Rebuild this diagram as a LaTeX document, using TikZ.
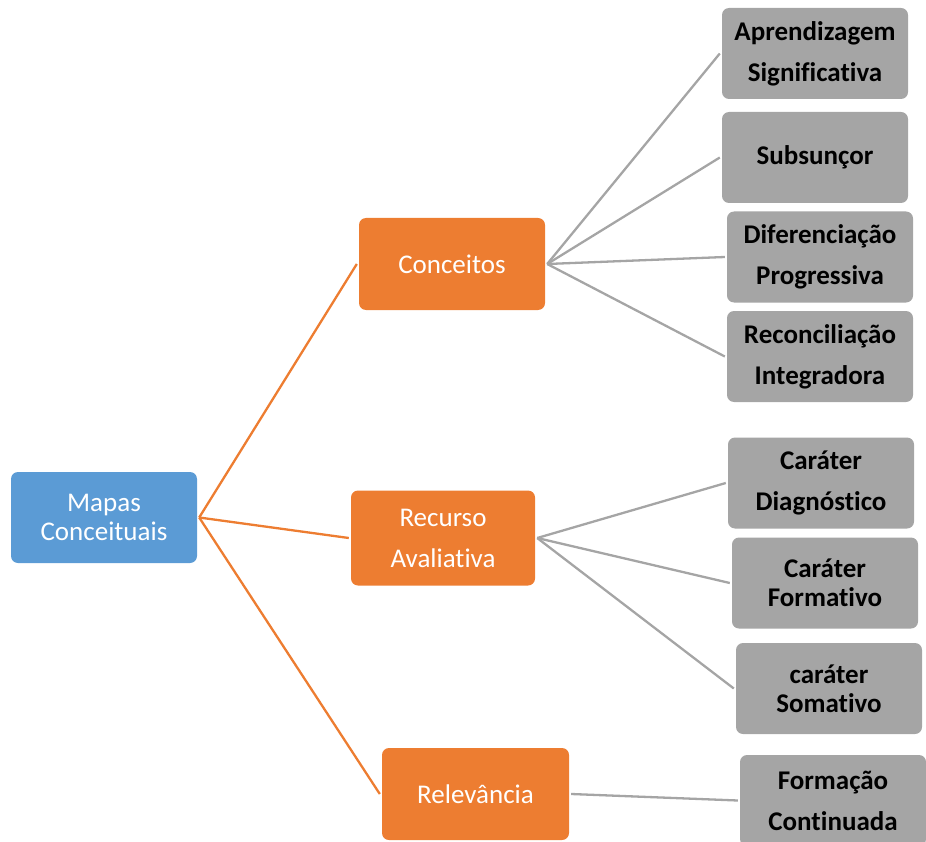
\documentclass[tikz,border=0pt]{standalone}
\usepackage{fontspec}
\setmainfont{Carlito}[Ligatures={NoCommon,NoRare,NoContextual}]
\definecolor{mblue}{HTML}{5B9BD5}
\definecolor{morange}{HTML}{ED7D31}
\definecolor{mgray}{HTML}{A5A5A5}
\tikzset{
  base/.style={rounded corners=7pt, inner sep=0pt, align=center, minimum height=91pt},
  rootbox/.style={base, fill=mblue, text=white, minimum width=186pt},
  midbox/.style={base, fill=morange, text=white, minimum width=186pt},
  leafbox/.style={base, fill=mgray, text=black, minimum width=186pt},
  wide/.style={font=\fontsize{27}{41}\selectfont},
  tight/.style={font=\fontsize{27}{29}\selectfont},
  wideb/.style={font=\fontsize{27}{41}\selectfont\bfseries},
  tightb/.style={font=\fontsize{27}{29}\selectfont\bfseries},
  olink/.style={draw=morange, line width=2.3pt},
  glink/.style={draw=mgray, line width=2.3pt},
}
\begin{document}
\begin{tikzpicture}[x=1pt,y=1pt]
\useasboundingbox (0,0) rectangle (926,-842);
\clip (0,0) rectangle (926,-842);
% root
\node[rootbox, tight] (map) at (104,-517.5) {Mapas\\Conceituais};
% middle
\node[midbox, wide, minimum height=92pt] (conc) at (452,-264) {Conceitos};
\node[midbox, wide, minimum width=184pt, minimum height=95pt] (rec) at (443,-538) {Recurso\\Avaliativa};
\node[midbox, wide, minimum width=187pt, minimum height=92pt] (rel) at (475.5,-794) {Relev\^ancia};
% leaves
\node[leafbox, wideb] (g1) at (815,-53.5) {Aprendizagem\\Significativa};
\node[leafbox, wideb] (g2) at (815,-157.5) {Subsun\c{c}or};
\node[leafbox, wideb] (g3) at (820,-257) {Diferencia\c{c}\~ao\\Progressiva};
\node[leafbox, wideb] (g4) at (820,-356.5) {Reconcilia\c{c}\~ao\\Integradora};
\node[leafbox, wideb] (g5) at (821,-483) {Car\'ater\\Diagn\'ostico};
\node[leafbox, tightb] (g6) at (825,-583) {Car\'ater\\Formativo};
\node[leafbox, tightb] (g7) at (829,-688.5) {car\'ater\\Somativo};
\node[leafbox, wideb] (g8) at (833,-800.5) {Forma\c{c}\~ao\\Continuada};
% connectors
\draw[olink] ([xshift=2pt]map.east) -- ([xshift=-2pt]conc.west);
\draw[olink] ([xshift=2pt]map.east) -- ([xshift=-2pt]rec.west);
\draw[olink] ([xshift=2pt]map.east) -- ([xshift=-2pt]rel.west);
\foreach \g in {g1,g2,g3,g4}{
  \draw[glink] ([xshift=2pt]conc.east) -- ([xshift=-2pt]\g.west);
}
\foreach \g in {g5,g6,g7}{
  \draw[glink] ([xshift=2pt]rec.east) -- ([xshift=-2pt]\g.west);
}
\draw[glink] ([xshift=2pt]rel.east) -- ([xshift=-2pt]g8.west);
\end{tikzpicture}
\end{document}
